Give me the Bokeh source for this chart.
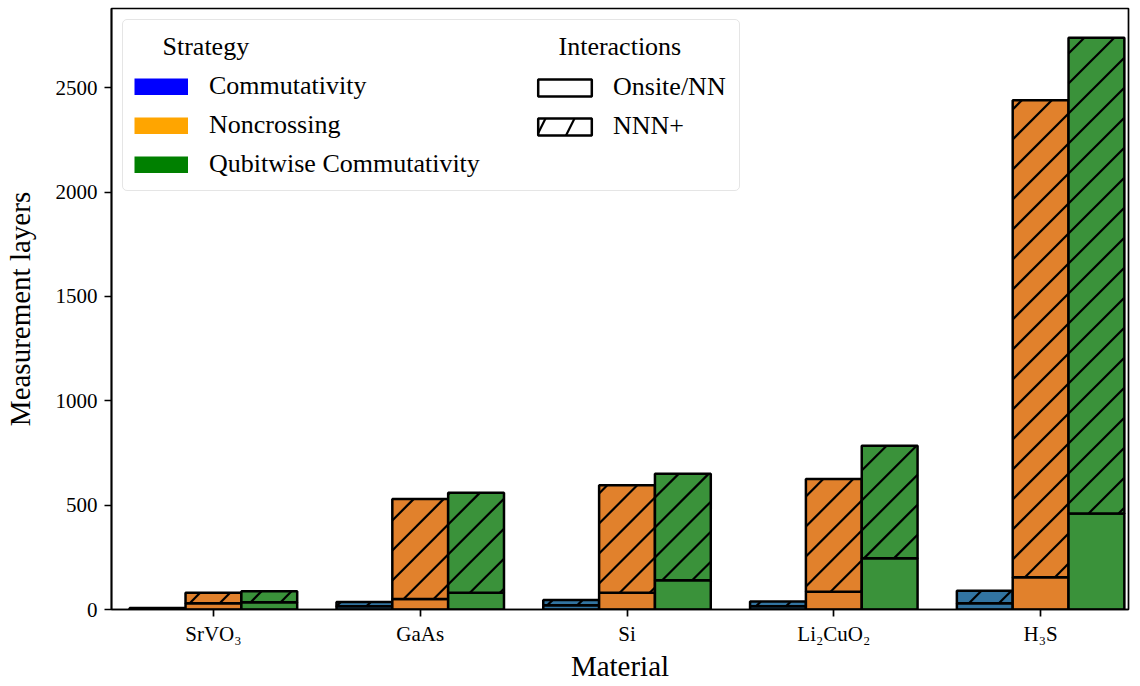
import math
from bokeh.plotting import figure
from bokeh.models import (Range1d, FixedTicker, Legend, LegendItem, ColumnDataSource, Label)
from bokeh.embed import file_html
from bokeh.resources import INLINE

# ---- data ----
materials = ["SrVO\u2083", "GaAs", "Si", "Li\u2082CuO\u2082", "H\u2083S"]
strategies = ["Commutativity", "Noncrossing", "Qubitwise Commutativity"]
interactions = ["Onsite/NN", "NNN+"]

comm_onsite = [3, 15, 20, 15, 30]
comm_nnn = [4, 21, 25, 23, 60]
noncross_onsite = [30, 50, 80, 85, 155]
noncross_nnn = [50, 480, 515, 540, 2285]
qwc_onsite = [35, 80, 140, 245, 460]
qwc_nnn = [52, 480, 510, 540, 2280]

yticks = [0, 500, 1000, 1500, 2000, 2500]

bar_colors = ["#3274a1", "#e1812c", "#3a923a"]
legend_colors = ["blue", "orange", "green"]
offsets = [-0.27, 0.0, 0.27]
bar_width = 0.27

FONT = "Liberation Serif"
LW = 2.5
HW = 2.2

# ---- layout ----
W, H = 1140, 686
BL, BR, BT, BB = 110, 12, 8, 77
XR = (-0.493, 4.425)
YR = (0, 2880)
FRAME_W = W - BL - BR
FRAME_H = H - BT - BB
ppx = FRAME_W / (XR[1] - XR[0])
ppy = FRAME_H / (YR[1] - YR[0])
HATCH_SPACING = 30  # px between "/" hatch lines


def hatch_segments(x0, x1, y0, y1):
    """45-degree (screen space) '/' hatch lines clipped to a bar rectangle."""
    u0, u1, v0, v1 = x0 * ppx, x1 * ppx, y0 * ppy, y1 * ppy
    out = []
    kmin = math.floor((v0 - u1) / HATCH_SPACING)
    kmax = math.ceil((v1 - u0) / HATCH_SPACING)
    for k in range(kmin, kmax + 1):
        c = k * HATCH_SPACING
        ua = max(u0, v0 - c)
        ub = min(u1, v1 - c)
        if ub - ua > 0.5:
            out.append((ua / ppx, (ua + c) / ppy, ub / ppx, (ub + c) / ppy))
    return out


p = figure(width=W, height=H, output_backend="svg", toolbar_location=None,
           x_range=Range1d(*XR), y_range=Range1d(*YR),
           min_border_left=BL, min_border_right=BR, min_border_top=BT,
           min_border_bottom=BB)
p.xgrid.visible = False
p.ygrid.visible = False
p.outline_line_color = "black"
p.outline_line_width = 1.7
p.background_fill_color = "white"

series = [(comm_onsite, comm_nnn), (noncross_onsite, noncross_nnn), (qwc_onsite, qwc_nnn)]
xs = list(range(len(materials)))
for (ons, nnn), col, off in zip(series, bar_colors, offsets):
    tops = [a + b for a, b in zip(ons, nnn)]
    bx = [x + off for x in xs]
    src = ColumnDataSource(dict(x=bx, ons=ons, tot=tops, zero=[0] * len(xs)))
    p.vbar(x="x", bottom="zero", top="ons", width=bar_width, source=src,
           fill_color=col, line_color="black", line_width=LW)
    p.vbar(x="x", bottom="ons", top="tot", width=bar_width, source=src,
           fill_color=col, line_color=None)
    segs = []
    for xc, b, t in zip(bx, ons, tops):
        segs += hatch_segments(xc - bar_width / 2, xc + bar_width / 2, b, t)
    p.segment(x0=[s[0] for s in segs], y0=[s[1] for s in segs],
              x1=[s[2] for s in segs], y1=[s[3] for s in segs],
              line_color="black", line_width=HW)
    p.vbar(x="x", bottom="ons", top="tot", width=bar_width, source=src,
           fill_color=None, line_color="black", line_width=LW)

# hidden renderers used only for the legend swatches
strat_items = []
for name, c in zip(strategies, legend_colors):
    r = p.line(x=[0, 1], y=[0, 0], line_color=c, line_width=17, line_cap="butt",
               visible=False)
    strat_items.append(LegendItem(label=name, renderers=[r]))
r_on = p.vbar(x=[0], top=[1], width=0.1, fill_color="white", line_color="black",
              line_width=LW, visible=False)
r_nn = p.vbar(x=[0], top=[1], width=0.1, fill_color="white", line_color="black",
              line_width=LW, hatch_pattern="/", hatch_color="black", hatch_weight=HW,
              hatch_scale=58, visible=False)
inter_items = [LegendItem(label=interactions[0], renderers=[r_on]),
               LegendItem(label=interactions[1], renderers=[r_nn])]

common = dict(label_text_font=FONT, label_text_font_size="26px",
              label_text_color="black",
              title_text_font=FONT, title_text_font_size="26px",
              title_text_font_style="normal", title_text_color="black",
              padding=11, spacing=9, title_standoff=10)

leg_a = Legend(items=strat_items, title="\u00a0", location="top_left", margin=11,
               glyph_width=54, glyph_height=17, label_standoff=21,
               label_width=519, border_line_color="#cccccc", border_line_width=1.6,
               background_fill_alpha=0, **common)
if "border_radius" in leg_a.properties():
    leg_a.border_radius = 5
p.add_layout(leg_a, "center")

leg_b = Legend(items=inter_items, location=(420, 468), margin=0,
               glyph_width=67, glyph_height=21, label_standoff=15,
               border_line_color=None, background_fill_alpha=0, **common)
p.add_layout(leg_b, "center")

for txt, lx in (("Strategy", 51), ("Interactions", 447)):
    p.add_layout(Label(x=lx, y=563, x_units="screen", y_units="screen", text=txt,
                       text_font=FONT, text_font_size="26px", text_color="black",
                       text_baseline="middle", level="overlay"))

# axes
for ax in (p.xaxis[0], p.yaxis[0]):
    ax.axis_line_width = 1.7
    ax.major_tick_line_width = 1.7
    ax.major_tick_out = 7
    ax.major_tick_in = 0
    ax.minor_tick_line_color = None
    ax.major_label_text_font = FONT
    ax.major_label_text_font_size = "21px"
    ax.major_label_text_color = "black"
    ax.axis_label_text_font = FONT
    ax.axis_label_text_font_size = "29px"
    ax.axis_label_text_font_style = "normal"
    ax.axis_label_text_color = "black"
    ax.major_label_standoff = 7

p.xaxis.ticker = FixedTicker(ticks=xs)
p.xaxis.major_label_overrides = {i: m for i, m in enumerate(materials)}
p.xaxis.axis_label = "Material"
p.xaxis.major_label_standoff = 5
p.xaxis.axis_label_standoff = 1
p.yaxis.ticker = FixedTicker(ticks=yticks)
p.yaxis.axis_label = "Measurement layers"
p.yaxis.axis_label_standoff = 17

open("out.html", "w").write(file_html(p, INLINE))
